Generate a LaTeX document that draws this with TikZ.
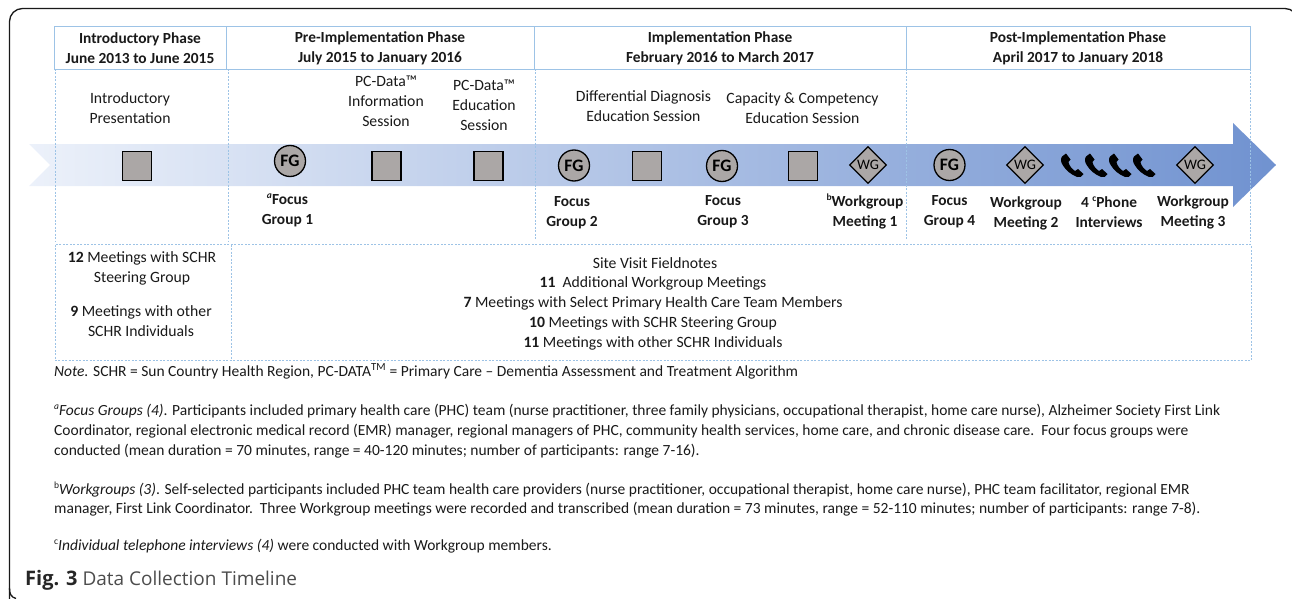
\documentclass[tikz,border=0pt]{standalone}
\usepackage{fontspec}
\setmainfont{Carlito}
\newfontfamily\capfont{Open Sans}
\usetikzlibrary{shapes.geometric}
\definecolor{hdrblue}{HTML}{9DC3E6}
\definecolor{markgrey}{HTML}{ABA7A6}
\newcommand{\sps}[1]{\raisebox{0.38em}{\fontsize{9.5}{10}\selectfont #1}}
\tikzset{
  txt/.style={font=\fontsize{15.7}{20}\selectfont,align=center,inner sep=0pt,text=black!90},
  bld/.style={txt,font=\fontsize{15.4}{20}\selectfont\bfseries},
  note/.style={font=\fontsize{15.5}{19}\selectfont,anchor=base west,inner sep=0pt,text=black!90},
  hdr/.style={draw=hdrblue,line width=0.9pt},
  dashline/.style={draw=hdrblue,line width=0.7pt,dash pattern=on 2pt off 1.5pt},
  sq/.style={draw=black,line width=1.6pt,fill=markgrey,minimum width=29pt,minimum height=29pt,inner sep=0pt},
  fg/.style={circle,draw=black,line width=1.3pt,fill=markgrey,minimum size=31pt,inner sep=0pt,font=\fontsize{17.5}{17}\selectfont\bfseries},
  wg/.style={diamond,draw=black,line width=1.3pt,fill=markgrey,minimum width=37pt,minimum height=37pt,inner sep=0pt,font=\fontsize{14.5}{14}\selectfont},
  handset/.pic={
    \fill[black] (-10,-9) .. controls (-12,-6) and (-11,-3) .. (-9,0) .. controls (-6,5) and (-1,9) .. (5,11.5)
      .. controls (8,12.5) and (10,11) .. (11.5,8.5) -- (6,3.5) -- (3,5.5) .. controls (0,3.5) and (-3,0) .. (-3.5,-3.5) -- (-1.5,-6) -- (-6,-12) -- cycle;
  }
}
\begin{document}
\begin{tikzpicture}[x=1pt,y=-1pt]
\useasboundingbox (0,0) rectangle (1292,599);
\draw[black!90,line width=1.3pt,rounded corners=13pt] (9.5,620) -- (9.5,598) -- (9.5,8.5) -- (1298,8.5) -- (1298,40);
\draw[black!90,line width=1.3pt] (9.5,588) .. controls (9.5,594) and (11,597) .. (16,598.5);
% arrow
\shade[left color={rgb,255:red,236;green,241;blue,250},right color={rgb,255:red,112;green,146;blue,208}]
  (29,144) -- (1233,144) -- (1233,123) -- (1276,165) -- (1233,207) -- (1233,186) -- (29,186) -- (50,165) -- cycle;
% dashed frame
\coordinate (d0) at (55,69); \coordinate (d0b) at (55,242);
\coordinate (d1) at (228,69); \coordinate (d1b) at (228,242);
\coordinate (d2) at (535,69); \coordinate (d2b) at (535,240);
\coordinate (d3) at (906,69); \coordinate (d3b) at (906,240);
\coordinate (d4) at (1250,69); \coordinate (d4b) at (1250,242);
\draw[dashline] (d0)--(d0b) (d1)--(d1b) (d2)--(d2b) (d3)--(d3b) (d4)--(d4b);
% headers
\draw[hdr] (54.5,26) rectangle (226,69);
\draw[hdr] (226,26) rectangle (534,69);
\draw[hdr] (534,26) rectangle (906,69);
\draw[hdr] (906,26) rectangle (1250,69);
\node[bld] (h1) at (140,48.2) {Introductory Phase\\June 2013 to June 2015};
\node[bld] (h2) at (380,48.2) {Pre-Implementation Phase\\July 2015 to January 2016};
\node[bld] (h3) at (720,48.2) {Implementation Phase\\February 2016 to March 2017};
\node[bld] (h4) at (1078,48.2) {Post-Implementation Phase\\April 2017 to January 2018};
% upper labels
\node[txt] (t1) at (130,108) {Introductory\\Presentation};
\node[txt] (t2) at (386,101) {PC-Data™\\Information\\Session};
\node[txt] (t3) at (484,105) {PC-Data™\\Education\\Session};
\node[txt] (t4) at (643.5,106) {Differential Diagnosis\\Education Session};
\node[txt] (t5) at (802.5,108) {Capacity \& Competency\\Education Session};
% markers
\node[sq] (s1) at (137,166) {};
\node[fg] (f1) at (290,161) {FG};
\node[sq] (s2) at (386.5,166) {};
\node[sq] (s3) at (488.5,166) {};
\node[fg] (f2) at (574,165.5) {FG};
\node[sq] (s4) at (647,166) {};
\node[fg] (f3) at (722,166) {FG};
\node[sq] (s5) at (803,166) {};
\node[wg] (w1) at (868,165) {WG};
\node[fg] (f4) at (949.5,165) {FG};
\node[wg] (w2) at (1025,165) {WG};
\node[wg] (w3) at (1195,165) {WG};
\pic at (1072,165.5) {handset};
\pic at (1096,165.5) {handset};
\pic at (1120,165.5) {handset};
\pic at (1144,165.5) {handset};
% lower labels
\node[bld] (b1) at (287.5,210.5) {\sps{\textit{a}}Focus\\Group 1};
\node[bld] (b2) at (572,213) {Focus\\Group 2};
\node[bld] (b3) at (723,211.5) {Focus\\Group 3};
\node[bld] (b4) at (865,211.5) {\sps{b}Workgroup\\Meeting 1};
\node[bld] (b5) at (949.5,212) {Focus\\Group 4};
\node[bld] (b6) at (1026,213.5) {Workgroup\\Meeting 2};
\node[bld] (b7) at (1109,212.5) {4 \sps{c}Phone\\Interviews};
\node[bld] (b8) at (1193,212.5) {Workgroup\\Meeting 3};
% bottom box
\draw[dashline] (55,244.5) rectangle (1251,360.5);
\draw[dashline] (231,244.5) -- (231,360.5);
\node[txt] (m1) at (142,268) {\textbf{12} Meetings with SCHR\\Steering Group};
\node[txt] (m2) at (141,321.5) {\textbf{9} Meetings with other\\SCHR Individuals};
\node[txt] (r1) at (655,263.5) {Site Visit Fieldnotes};
\node[txt] (r2) at (653,283.5) {\textbf{11}\ \ Additional Workgroup Meetings};
\node[txt] (r3) at (653,303.5) {\textbf{7} Meetings with Select Primary Health Care Team Members};
\node[txt] (r4) at (653,323.5) {\textbf{10} Meetings with SCHR Steering Group};
\node[txt] (r5) at (653,343.5) {\textbf{11} Meetings with other SCHR Individuals};
% notes
\node[note] (n0) at (54,376) {\textit{Note.} SCHR = Sun Country Health Region, PC-DATA\textsuperscript{TM} = Primary Care -- Dementia Assessment and Treatment Algorithm};
\node[note] (n1) at (54,415) {\sps{\textit{a}}\textit{Focus Groups (4)}. Participants included primary health care (PHC) team (nurse practitioner, three family physicians, occupational therapist, home care nurse), Alzheimer Society First Link};
\node[note] (n2) at (54,435) {Coordinator, regional electronic medical record (EMR) manager, regional managers of PHC, community health services, home care, and chronic disease care.\ \ Four focus groups were};
\node[note] (n3) at (54,455) {conducted (mean duration = 70 minutes, range = 40-120 minutes; number of participants: range 7-16).};
\node[note] (n4) at (54,494) {\sps{b}\textit{Workgroups (3)}. Self-selected participants included PHC team health care providers (nurse practitioner, occupational therapist, home care nurse), PHC team facilitator, regional EMR};
\node[note] (n5) at (54,513) {manager, First Link Coordinator.\ \ Three Workgroup meetings were recorded and transcribed (mean duration = 73 minutes, range = 52-110 minutes; number of participants: range 7-8).};
\node[note] (n6) at (54,550) {\sps{c}\textit{Individual telephone interviews (4)} were conducted with Workgroup members.};
\node[anchor=base west,inner sep=0pt,font=\capfont\fontsize{19}{20}\selectfont,text=black!70] (cap) at (25,585) {\textbf{\textcolor{black!85}{\fontsize{20}{20}\selectfont Fig. 3}} Data Collection Timeline};
\end{tikzpicture}
\end{document}
